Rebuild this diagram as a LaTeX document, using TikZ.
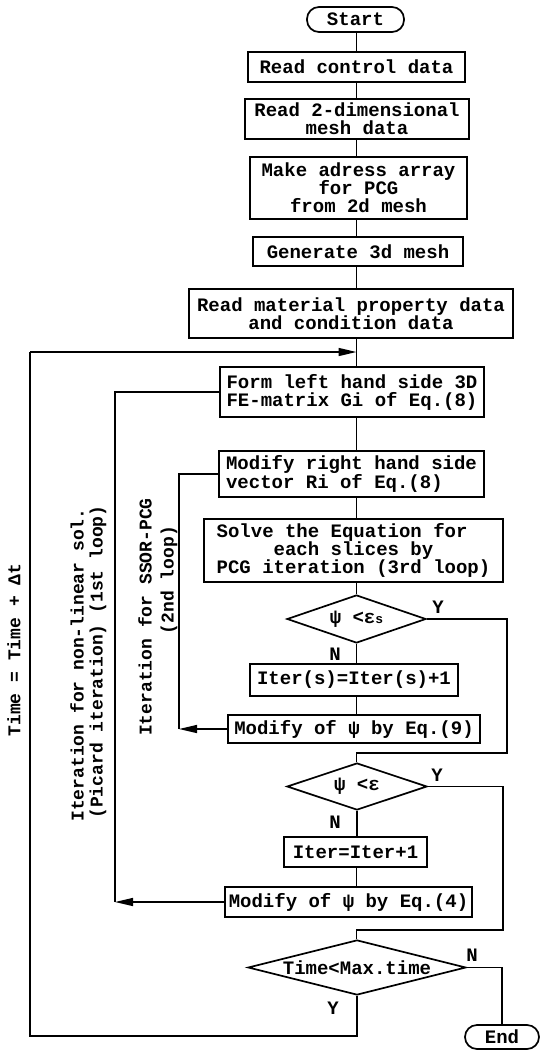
\documentclass[tikz,border=0pt]{standalone}
\usepackage{fontspec}
\newfontfamily\cour{Liberation Mono}
\usetikzlibrary{arrows.meta,shapes.geometric}
\begin{document}
\begin{tikzpicture}[x=1pt,y=-1pt,
  txt/.style={font=\cour\bfseries\fontsize{19}{18}\selectfont},
  vtxt/.style={font=\cour\bfseries\fontsize{18}{18}\selectfont, rotate=90, inner sep=0pt},
  box/.style={txt, draw, line width=1.7pt, inner sep=0pt, align=center},
  lbox/.style={box, align=left},
  term/.style={box, rounded corners=12pt},
  dia/.style={txt, draw, diamond, aspect=4, inner sep=0pt, line width=1.7pt},
  conn/.style={line width=1.4pt},
  thin/.style={line width=1.1pt},
  outer/.style={line width=2.2pt},
  arr/.style={-{Triangle[length=18pt,width=8pt]}},
  yn/.style={txt, inner sep=0pt}
]
\useasboundingbox (0,0) rectangle (541,1050);
\coordinate (ax) at (356.5,0);

\node[term, minimum width=97pt, minimum height=25pt] (start) at (355.5,19.5) {Start};
\node[box, minimum width=217pt, minimum height=30pt] (b1) at (356.5,67) {Read control data};
\node[box, minimum width=224pt, minimum height=40pt] (b2) at (357,119) {Read 2-dimensional\\mesh data};
\node[box, minimum width=217pt, minimum height=62pt] (b3) at (358.5,188) {Make adress array\\for PCG\\from 2d mesh};
\node[box, minimum width=210pt, minimum height=29pt] (b4) at (358,251.5) {Generate 3d mesh};
\node[box, minimum width=324pt, minimum height=49pt] (b5) at (351,313.5) {Read material property data\\and condition data};
\node[lbox, minimum width=264pt, minimum height=50pt] (b6) at (352,392) {Form left hand side 3D\\FE-matrix Gi of Eq.(8)};
\node[lbox, minimum width=265pt, minimum height=46pt] (b7) at (351.5,474) {Modify right hand side\\vector Ri of Eq.(8)};
\node[lbox, minimum width=299pt, minimum height=63pt] (b8) at (353.5,550.5) {Solve the Equation for\\\hspace*{3em}each slices by\\PCG iteration (3rd loop)};
\node[dia, minimum width=139pt, minimum height=48pt] (d1) at (356.5,619) {ψ <ε{\fontsize{13}{13}\selectfont s}};
\node[box, minimum width=208pt, minimum height=32pt] (b9) at (354,680) {Iter(s)=Iter(s)+1};
\node[box, minimum width=252pt, minimum height=28pt] (b10) at (354,729) {Modify of ψ by Eq.(9)};
\node[dia, minimum width=140pt, minimum height=47pt] (d2) at (357,786.5) {ψ <ε};
\node[box, minimum width=143pt, minimum height=30pt] (b11) at (355.5,852) {Iter=Iter+1};
\node[box, minimum width=247pt, minimum height=30pt] (b12) at (348.5,902) {Modify of ψ by Eq.(4)};
\node[dia, minimum width=218pt, minimum height=55pt] (d3) at (357,967.5) {Time<Max.time};
\node[term, minimum width=74pt, minimum height=24pt] (end) at (502,1037) {End};

% main spine
\draw[conn] (start.south -| ax) -- (b1.north -| ax);
\draw[conn] (b1.south -| ax) -- (b2.north -| ax);
\draw[conn] (b2.south -| ax) -- (b3.north -| ax);
\draw[conn] (b3.south -| ax) -- (b4.north -| ax);
\draw[conn] (b4.south -| ax) -- (b5.north -| ax);
\draw[conn] (b5.south -| ax) -- (b6.north -| ax);
\draw[conn] (b6.south -| ax) -- (b7.north -| ax);
\draw[conn] (b7.south -| ax) -- (b8.north -| ax);
\draw[conn] (b8.south -| ax) -- (d1.north -| ax);
\draw[conn] (d1.south) -- (b9.north -| d1.south);
\draw[conn] (b9.south -| ax) -- (b10.north -| ax);
\draw[conn] (d2.south) -- (b11.north -| d2.south);
\draw[conn] (b11.south -| ax) -- (b12.north -| ax);

% inner Y branches
\coordinate (r1) at (507,753);
\draw[conn] (d1.east) -| (r1) -- (r1 -| ax) -- (d2.north -| ax);
\coordinate (r2) at (503,930);
\draw[conn] (d2.east) -| (r2) -- (r2 -| ax) -- (d3.north -| ax);
\draw[conn] (d3.east) -| (end.north);

% loop 2 (SSOR-PCG)
\coordinate (l2) at (179,729);
\draw[conn, arr] (b10.west) -- (l2);
\draw[conn] (l2) |- (b7.west);
% loop 1 (Picard)
\coordinate (l1) at (115,902);
\draw[conn, arr] (b12.west) -- (l1);
\draw[thin] (l1) |- (b6.west);
% time loop
\coordinate (o1) at (30,1036);
\coordinate (o2) at (30,352);
\coordinate (m1) at (356.5,352);
\draw[outer] (d3.south) |- (o1) -- (o2);
\draw[conn, arr] (o2) -- (m1);

% Y / N labels
\node[yn] (y1) at (438,607) {Y};
\node[yn] (n1) at (335,654) {N};
\node[yn] (y2) at (437,775) {Y};
\node[yn] (n2) at (335,822) {N};
\node[yn] (n3) at (472,955) {N};
\node[yn] (y3) at (333,1008) {Y};

% loop labels
\node[vtxt] (t0) at (14,650) {Time = Time + Δt};
\node[vtxt] (t1) at (77,665) {Iteration for non-linear sol.};
\node[vtxt] (t2) at (98,662) {(Picard iteration) (1st loop)};
\node[vtxt] (t3) at (145,617) {Iteration for SSOR-PCG};
\node[vtxt] (t4) at (169,580) {(2nd loop)};
\end{tikzpicture}
\end{document}
